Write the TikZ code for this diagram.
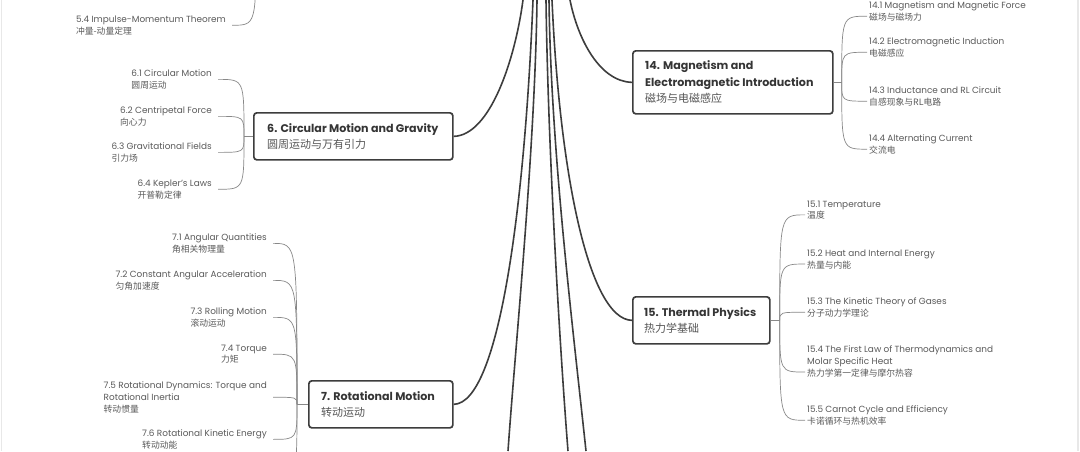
\documentclass[tikz,border=0pt]{standalone}
\usepackage{fontspec}
\setmainfont{Poppins}
\newfontfamily\cjk{Noto Sans CJK SC}
\usetikzlibrary{calc}
\definecolor{boxc}{HTML}{3D3D3D}
\definecolor{titlec}{HTML}{353535}
\definecolor{subc}{HTML}{5A5A5A}
\definecolor{cjkc}{HTML}{555555}
\definecolor{thinc}{HTML}{888888}
\definecolor{edgec}{HTML}{E8E8E8}
\newcommand{\cjkt}{\cjk\mdseries\fontsize{11}{16.5}\selectfont\color{cjkc}}
\newcommand{\cjks}{\cjk\fontsize{8.8}{11.8}\selectfont}
\begin{document}
\begin{tikzpicture}[x=1pt,y=-1pt,
  topicbox/.style={draw=boxc, line width=1.7pt, rounded corners=3pt, anchor=north west, inner sep=0pt},
  topictext/.style={anchor=west, align=left, inner sep=0pt, text=titlec, font=\fontsize{11.1}{16.5}\selectfont\bfseries},
  sub/.style={align=left, inner sep=0pt, text=subc, font=\fontsize{8.9}{11.8}\selectfont},
  subl/.style={sub, anchor=north east},
  subr/.style={sub, anchor=north west},
  mainline/.style={draw=boxc, line width=1.6pt},
  thinline/.style={draw=thinc, line width=0.7pt},
]
\useasboundingbox (0,0) rectangle (1080,451);
\fill[white] (0,0) rectangle (1080,451);
\clip (0,0) rectangle (1080,451);
\draw[edgec, line width=1.4pt] (1.5,0) -- (1.5,451);
\draw[edgec, line width=1.4pt] (1078,0) -- (1078,451);

% topic boxes
\node[topicbox, minimum width=199pt, minimum height=47pt] (t6) at (253,112) {};
\node[topictext] (t6txt) at ($(t6.west)+(14,0)$) {6. Circular Motion and Gravity\\{\cjkt 圆周运动与万有引力}};
\node[topicbox, minimum width=144pt, minimum height=47pt] (t7) at (308,380) {};
\node[topictext] (t7txt) at ($(t7.west)+(13,0)$) {7. Rotational Motion\\{\cjkt 转动运动}};
\node[topicbox, minimum width=200pt, minimum height=63pt] (t14) at (632,50) {};
\node[topictext] (t14txt) at ($(t14.west)+(13,0)$) {14. Magnetism and\\Electromagnetic Introduction\\{\cjkt 磁场与电磁感应}};
\node[topicbox, minimum width=137pt, minimum height=47pt] (t15) at (632,296) {};
\node[topictext] (t15txt) at ($(t15.west)+(12,0)$) {15. Thermal Physics\\{\cjkt 热力学基础}};

% subtopics
\node[subl] (c54) at (226,15.5) {5.4 Impulse-Momentum Theorem\\{\cjks 冲量-动量定理}};
\node[subl] (c61) at (212,69.5) {6.1 Circular Motion\\{\cjks 圆周运动}};
\node[subl] (c62) at (212,106.5) {6.2 Centripetal Force\\{\cjks 向心力}};
\node[subl] (c63) at (212,142.5) {6.3 Gravitational Fields\\{\cjks 引力场}};
\node[subl] (c64) at (212,179.5) {6.4 Kepler's Laws\\{\cjks 开普勒定律}};
\node[subl] (c71) at (267,233.5) {7.1 Angular Quantities\\{\cjks 角相关物理量}};
\node[subl] (c72) at (267,270.5) {7.2 Constant Angular Acceleration\\{\cjks 匀角加速度}};
\node[subl] (c73) at (267,307.5) {7.3 Rolling Motion\\{\cjks 滚动运动}};
\node[subl] (c74) at (267,344.5) {7.4 Torque\\{\cjks 力矩}};
\node[subl] (c75) at (267,381.5) {7.5 Rotational Dynamics: Torque and\\Rotational Inertia\\{\cjks 转动惯量}};
\node[subl] (c76) at (267,429.5) {7.6 Rotational Kinetic Energy\\{\cjks 转动动能}};
\node[subr] (c141) at (869,1.5) {14.1 Magnetism and Magnetic Force\\{\cjks 磁场与磁场力}};
\node[subr] (c142) at (869,37.5) {14.2 Electromagnetic Induction\\{\cjks 电磁感应}};
\node[subr] (c143) at (869,86.5) {14.3 Inductance and RL Circuit\\{\cjks 自感现象与RL电路}};
\node[subr] (c144) at (869,134.5) {14.4 Alternating Current\\{\cjks 交流电}};
\node[subr] (c151) at (807,200.5) {15.1 Temperature\\{\cjks 温度}};
\node[subr] (c152) at (807,249.5) {15.2 Heat and Internal Energy\\{\cjks 热量与内能}};
\node[subr] (c153) at (807,297.5) {15.3 The Kinetic Theory of Gases\\{\cjks 分子动力学理论}};
\node[subr] (c154) at (807,345.5) {15.4 The First Law of Thermodynamics and\\Molar Specific Heat\\{\cjks 热力学第一定律与摩尔热容}};
\node[subr] (c155) at (807,405.5) {15.5 Carnot Cycle and Efficiency\\{\cjks 卡诺循环与热机效率}};

% main connectors (root is above the visible area)
\coordinate (top6) at (523,0);
\coordinate (top7) at (533,0);
\coordinate (top8) at (537,0);
\coordinate (bot8) at (508,451);
\coordinate (top9) at (546,0);
\coordinate (bot9) at (568,451);
\coordinate (top10) at (549,0);
\coordinate (bot10) at (586,451);
\coordinate (top15) at (552,0);
\coordinate (top14) at (570,0);
\draw[mainline] (t6.east) .. controls (490,135.5) and (515,60) .. (top6);
\draw[mainline] (t7.east) .. controls (500,403.5) and (525,200) .. (top7);
\draw[mainline] (top8) .. controls (535,150) and (515,350) .. (bot8);
\draw[mainline] (top9) .. controls (548,150) and (560,350) .. (bot9);
\draw[mainline] (top10) .. controls (551,150) and (572,320) .. (bot10);
\draw[mainline] (t15.west) .. controls (590,319.5) and (560,180) .. (top15);
\draw[mainline] (t14.west) .. controls (600,81.5) and (578,40) .. (top14);

% branch hubs
\coordinate (h6) at ($(t6.west)+(-9,0)$);
\coordinate (h7) at ($(t7.west)+(-11,0)$);
\coordinate (h14) at ($(t14.east)+(8,0)$);
\coordinate (h15) at ($(t15.east)+(9,0)$);
\coordinate (h5) at (256,-60);
\coordinate (e77) at (273,478);
\draw[thinline] (t6.west) -- (h6);
\draw[thinline] (t7.west) -- (h7);
\draw[thinline] (t14.east) -- (h14);
\draw[thinline] (t15.east) -- (h15);

\foreach \c in {c54} {
  \coordinate (e) at ($(\c.east)+(6,0)$);
  \draw[thinline] (h5) .. controls (h5 |- e) .. (e);
}
\foreach \c in {c61,c62,c63,c64} {
  \coordinate (e) at ($(\c.east)+(6,0)$);
  \draw[thinline] (h6) .. controls (h6 |- e) .. (e);
}
\foreach \c in {c71,c72,c73,c74,c75,c76} {
  \coordinate (e) at ($(\c.east)+(6,0)$);
  \draw[thinline] (h7) .. controls (h7 |- e) .. (e);
}
\draw[thinline] (h7) .. controls (h7 |- e77) .. (e77);
\foreach \c in {c141,c142,c143,c144} {
  \coordinate (e) at ($(\c.south west)+(-2,-5)$);
  \draw[thinline] (h14) .. controls (h14 |- e) .. (e);
}
\foreach \c in {c151,c152,c153,c154,c155} {
  \coordinate (e) at ($(\c.south west)+(-2,-5)$);
  \draw[thinline] (h15) .. controls (h15 |- e) .. (e);
}
\end{tikzpicture}
\end{document}
